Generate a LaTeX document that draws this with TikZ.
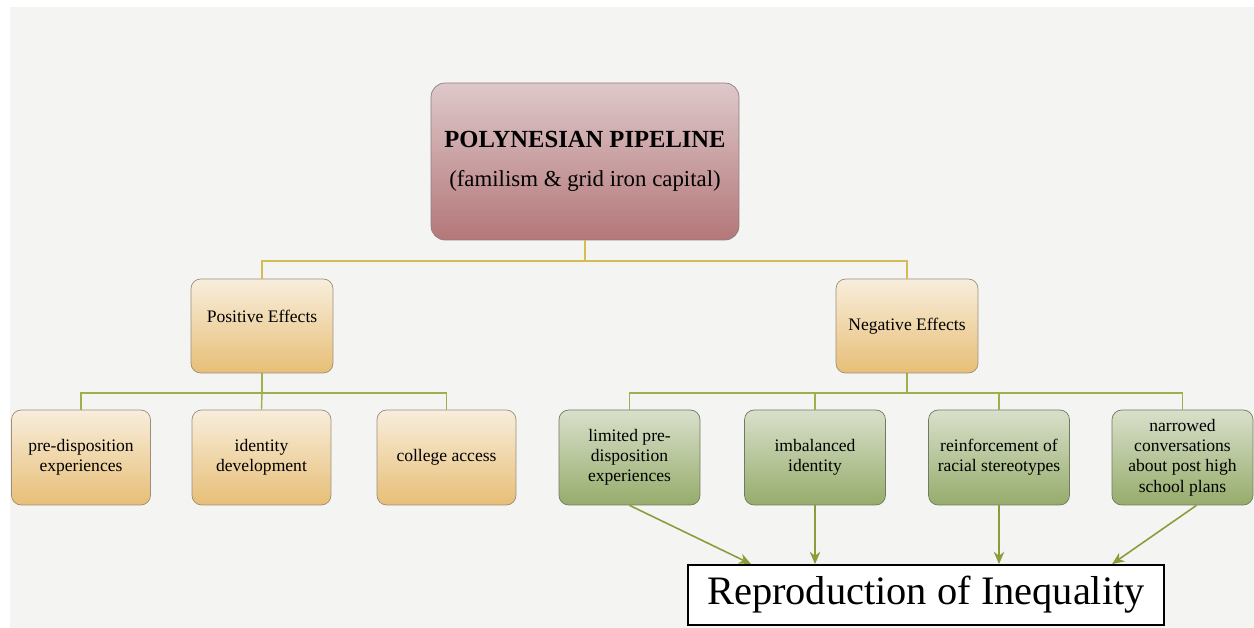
\documentclass[tikz,border=0pt]{standalone}
\usepackage{fontspec}
\setmainfont{Liberation Serif}
\usetikzlibrary{positioning,calc,arrows.meta}

\definecolor{paper}{HTML}{F4F4F2}
\definecolor{titletop}{HTML}{DEC8CA}
\definecolor{titlebot}{HTML}{B47779}
\definecolor{titleedge}{HTML}{8C7D7E}
\definecolor{tantop}{HTML}{F8EEDC}
\definecolor{tanbot}{HTML}{E7BE76}
\definecolor{tanedge}{HTML}{9C8E7A}
\definecolor{greentop}{HTML}{D9E0CB}
\definecolor{greenbot}{HTML}{96AC6B}
\definecolor{greenedge}{HTML}{6F7B5E}
\definecolor{goldline}{HTML}{D6BC55}
\definecolor{oliveline}{HTML}{9DB04C}
\definecolor{arrowline}{HTML}{8A9D3A}

\begin{document}
\begin{tikzpicture}[x=0.02cm, y=-0.02cm, every node/.style={font=\fontsize{10}{11.5}\selectfont}]
    \tikzstyle{titlebox}=[rectangle, rounded corners=8pt, draw=titleedge, top color=titletop, bottom color=titlebot, minimum width=6.16cm, minimum height=3.14cm, inner sep=0pt, align=center]
    \tikzstyle{effectbox}=[rectangle, rounded corners=5.5pt, draw=tanedge, top color=tantop, bottom color=tanbot, minimum width=2.84cm, minimum height=1.88cm, inner sep=0pt, align=center]
    \tikzstyle{posbox}=[rectangle, rounded corners=5.5pt, draw=tanedge, top color=tantop, bottom color=tanbot, minimum width=2.78cm, minimum height=1.9cm, inner sep=0pt, align=center]
    \tikzstyle{negbox}=[rectangle, rounded corners=5.5pt, draw=greenedge, top color=greentop, bottom color=greenbot, minimum width=2.82cm, minimum height=1.9cm, inner sep=0pt, align=center]
    \tikzstyle{resultbox}=[rectangle, draw=black, fill=white, line width=1.1pt, minimum width=9.52cm, minimum height=1.2cm, inner sep=0pt, font=\fontsize{23}{26}\selectfont]
    \tikzstyle{bus}=[draw=goldline, line width=0.8pt]
    \tikzstyle{branch}=[draw=oliveline, line width=0.8pt]
    \tikzstyle{feed}=[draw=arrowline, line width=0.9pt, -{Stealth[length=7pt, width=6pt]}]

    \useasboundingbox (0,0) rectangle (1254,628);
    \fill[white] (0,0) rectangle (1254,628);
    \fill[paper] (10,7) rectangle (1254,628);

    \node[titlebox] (pipe) at (585,161.5) {{\fontsize{14}{16}\selectfont\bfseries POLYNESIAN PIPELINE}\\[11pt]{\fontsize{13}{15}\selectfont (familism \& grid iron capital)}};
    \node[effectbox, text depth=0.4cm] (pos) at (262,326) {Positive Effects};
    \node[effectbox] (neg) at (907,326) {Negative Effects};

    \node[posbox] (pre) at (81,457.5) {pre-disposition\\experiences};
    \node[posbox] (ident) at (261.5,457.5) {identity\\development};
    \node[posbox] (college) at (446.5,457.5) {college access};

    \node[negbox] (limited) at (629.5,457.5) {limited pre-\\disposition\\experiences};
    \node[negbox] (imbal) at (815,457.5) {imbalanced\\identity};
    \node[negbox] (reinf) at (999,457.5) {reinforcement of\\racial stereotypes};
    \node[negbox] (narrow) at (1182.5,457.5) {narrowed\\conversations\\about post high\\school plans};

    \node[resultbox] (repro) at (926,595) {Reproduction of Inequality};

    \coordinate (topjoin) at (585,261);
    \coordinate (posjoin) at (262,393);
    \coordinate (negjoin) at (907,393);

    \draw[bus] (pipe.south) -- (topjoin);
    \draw[bus] (topjoin) -| (pos.north);
    \draw[bus] (topjoin) -| (neg.north);

    \draw[branch] (pos.south) -- (posjoin);
    \draw[branch] (posjoin) -| (pre.north);
    \draw[branch] (posjoin) -- (ident.north);
    \draw[branch] (posjoin) -| (college.north);

    \draw[branch] (neg.south) -- (negjoin);
    \draw[branch] (negjoin) -| (limited.north);
    \draw[branch] (negjoin) -| (imbal.north);
    \draw[branch] (negjoin) -| (reinf.north);
    \draw[branch] (negjoin) -| (narrow.north);

    \draw[feed] (limited.south) -- ($(repro.north west)+(64,0)$);
    \draw[feed] (imbal.south) -- (imbal.south |- repro.north);
    \draw[feed] (reinf.south) -- (reinf.south |- repro.north);
    \draw[feed] ($(narrow.south)+(14,0)$) -- ($(repro.north west)+(425,0)$);
\end{tikzpicture}
\end{document}
